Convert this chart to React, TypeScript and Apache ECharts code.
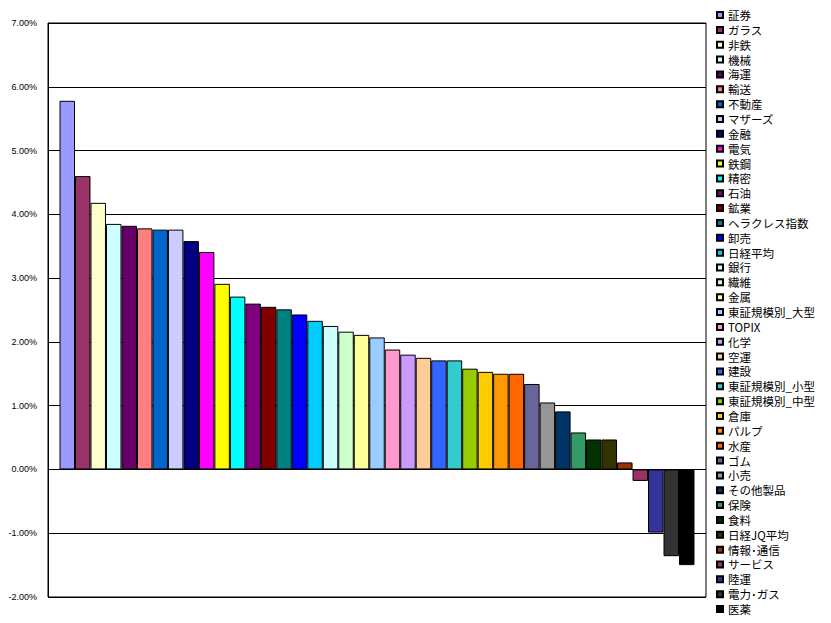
import React, { useEffect, useRef } from "react";
import * as echarts from "echarts";

const categories: string[] = [
  "証券", "ガラス", "非鉄", "機械", "海運", "輸送", "不動産", "マザーズ", "金融", "電気",
  "鉄鋼", "精密", "石油", "鉱業", "ヘラクレス指数", "卸売", "日経平均", "銀行", "繊維", "金属",
  "東証規模別_大型", "TOPIX", "化学", "空運", "建設", "東証規模別_小型", "東証規模別_中型", "倉庫", "パルプ", "水産",
  "ゴム", "小売", "その他製品", "保険", "食料", "日経JQ平均", "情報･通信", "サービス", "陸運", "電力･ガス",
  "医薬",
];

const values: number[] = [
  5.78, 4.6, 4.18, 3.85, 3.82, 3.78, 3.76, 3.76, 3.58, 3.41,
  2.91, 2.71, 2.6, 2.55, 2.51, 2.43, 2.33, 2.25, 2.16, 2.11,
  2.07, 1.88, 1.8, 1.75, 1.71, 1.71, 1.58, 1.53, 1.5, 1.5,
  1.34, 1.05, 0.91, 0.58, 0.47, 0.47, 0.11, -0.18, -0.99, -1.36,
  -1.5,
];

const colors: string[] = [
  "#9999FF", "#993366", "#FFFFCC", "#CCFFFF", "#660066", "#FF8080", "#0066CC", "#CCCCFF", "#000080", "#FF00FF",
  "#FFFF00", "#00FFFF", "#800080", "#800000", "#008080", "#0000FF", "#00CCFF", "#CCFFFF", "#CCFFCC", "#FFFF99",
  "#99CCFF", "#FF99CC", "#CC99FF", "#FFCC99", "#3366FF", "#33CCCC", "#99CC00", "#FFCC00", "#FF9900", "#FF6600",
  "#666699", "#969696", "#003366", "#339966", "#003300", "#333300", "#993300", "#993366", "#333399", "#333333",
  "#000000",
];

const yTicks = { min: -2, max: 7, interval: 1 };

export default function App() {
  const ref = useRef<HTMLDivElement>(null);
  useEffect(() => {
    if (!ref.current) return;
    const chart = echarts.init(ref.current, undefined, { renderer: "svg" });
    const series = categories.map((name, i) => ({
      name,
      type: "bar",
      data: [values[i]],
      barGap: "0%",
      barCategoryGap: "3.5%",
      itemStyle: { color: colors[i], borderColor: "#000", borderWidth: 1 },
    }));
    chart.setOption({
      animation: false,
      backgroundColor: "#fff",
      grid: {
        left: 48,
        top: 23,
        width: 658,
        height: 574,
        show: true,
        borderColor: "#000",
        borderWidth: 1,
        backgroundColor: "transparent",
      },
      legend: {
        orient: "vertical",
        left: 716,
        top: 7.6,
        padding: 0,
        itemWidth: 6,
        itemHeight: 6,
        itemGap: 0,
        icon: "rect",
        data: categories,
        textStyle: {
          fontFamily: "Noto Sans CJK JP",
          fontSize: 11.5,
          lineHeight: 14.85,
          color: "#000",
        },
      },
      xAxis: {
        type: "category",
        data: [""],
        axisLine: { show: false },
        axisTick: { show: false },
        axisLabel: { show: false },
        splitLine: { show: false },
      },
      yAxis: {
        type: "value",
        min: yTicks.min,
        max: yTicks.max,
        interval: yTicks.interval,
        axisLine: { show: true, lineStyle: { color: "#000", width: 1 } },
        axisTick: { show: false },
        axisLabel: {
          margin: 11,
          fontSize: 9,
          color: "#000",
          fontFamily: "Liberation Sans, Arial, sans-serif",
          formatter: (v: number) => v.toFixed(2) + "%",
        },
        splitLine: { show: true, lineStyle: { color: "#000", width: 1 } },
      },
      series,
    });
    return () => chart.dispose();
  }, []);
  return (
    <div
      ref={ref}
      style={{ position: "absolute", left: 0, top: 0, width: 831, height: 623 }}
    />
  );
}
